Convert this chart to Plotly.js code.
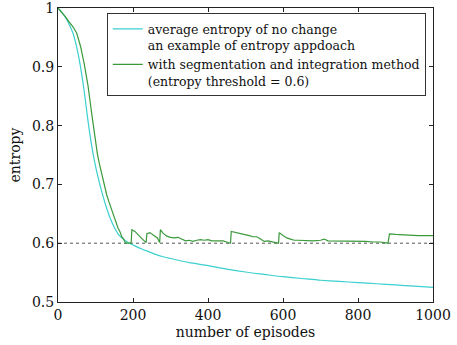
<!DOCTYPE html>
<html>
<head>
<meta charset="utf-8">
<script src="https://cdn.plot.ly/plotly-3.0.1.min.js"></script>
<style>html,body{margin:0;padding:0;background:#fff;}#chart{width:457px;height:345px;}</style>
</head>
<body>
<div id="chart"></div>
<script>
// Episodes and entropy values
const cyanEpisodes = [0,10,20,30,40,50,60,70,80,90,100,110,120,130,140,150,160,170,180,190,200,220,240,260,280,300,350,400,450,500,550,600,650,700,750,800,850,900,950,1000];
const cyanEntropy  = [1.0,0.993,0.984,0.972,0.957,0.933,0.900,0.858,0.808,0.765,0.731,0.704,0.680,0.659,0.641,0.627,0.616,0.609,0.604,0.600,0.597,0.591,0.586,0.581,0.577,0.574,0.567,0.562,0.556,0.551,0.547,0.543,0.540,0.537,0.535,0.533,0.531,0.529,0.527,0.525];

const greenEpisodes = [0,10,20,30,40,50,60,70,80,90,100,105,110,115,120,125,130,135,140,145,150,155,160,165,170,175,180,195,197,205,215,225,235,237,245,255,265,271,273,280,290,300,310,320,330,340,350,360,370,380,390,400,410,420,430,440,450,460,462,470,480,490,500,510,520,530,540,550,560,570,580,588,590,600,610,620,630,640,660,680,700,710,720,740,760,780,800,820,840,860,880,884,900,920,940,960,980,1000];
const greenEntropy  = [1.0,0.993,0.985,0.976,0.968,0.957,0.935,0.905,0.868,0.820,0.772,0.752,0.736,0.722,0.706,0.695,0.682,0.672,0.662,0.652,0.643,0.636,0.626,0.620,0.611,0.607,0.600,0.600,0.623,0.620,0.613,0.607,0.601,0.616,0.618,0.614,0.609,0.601,0.623,0.617,0.612,0.610,0.609,0.610,0.607,0.604,0.605,0.603,0.605,0.606,0.605,0.606,0.604,0.604,0.603,0.604,0.602,0.600,0.620,0.619,0.617,0.616,0.615,0.613,0.611,0.611,0.607,0.603,0.604,0.602,0.601,0.600,0.618,0.613,0.609,0.607,0.605,0.605,0.604,0.604,0.605,0.607,0.604,0.604,0.603,0.603,0.603,0.603,0.602,0.602,0.600,0.616,0.615,0.614,0.613,0.613,0.613,0.613];

const thresholdEpisodes = [0, 1000];
const thresholdEntropy = [0.6, 0.6];

const cyanName = "average entropy of no change<br>an example of entropy appdoach";
const greenName = "with segmentation and integration method<br>(entropy threshold = 0.6)";

const xTicks = [0,200,400,600,800,1000];
const yTicks = [0.5,0.6,0.7,0.8,0.9,1];
const yTickText = ["0.5","0.6","0.7","0.8","0.9","1"];

const font = "DejaVu Serif";

const traces = [
  {x: thresholdEpisodes, y: thresholdEntropy, mode: "lines", showlegend: false,
   line: {color: "#555555", width: 1, dash: "dot"}, hoverinfo: "skip"},
  {x: cyanEpisodes, y: cyanEntropy, mode: "lines", name: cyanName,
   line: {color: "#3ccfcf", width: 1.2, shape: "spline", smoothing: 0.6}},
  {x: greenEpisodes, y: greenEntropy, mode: "lines", name: greenName,
   line: {color: "#3a9a3a", width: 1.2}}
];

const axisCommon = {
  showgrid: false, zeroline: false, showline: true, mirror: "allticks",
  linecolor: "#222", linewidth: 1, ticks: "inside", ticklen: 4, tickcolor: "#222",
  ticklabeloverflow: "allow",
  tickfont: {family: font, size: 14, color: "#111"}
};

const layout = {
  width: 457, height: 345,
  margin: {l: 58, r: 24, t: 8, b: 43},
  paper_bgcolor: "#fff", plot_bgcolor: "#fff",
  font: {family: font, color: "#111"},
  xaxis: Object.assign({}, axisCommon, {
    range: [0, 1000], tickvals: xTicks, ticktext: xTicks.map(String),
    title: {text: "number of episodes", font: {family: font, size: 14}, standoff: 5}
  }),
  yaxis: Object.assign({}, axisCommon, {
    range: [0.5, 1], tickvals: yTicks, ticktext: yTickText,
    title: {text: "entropy", font: {family: font, size: 14}, standoff: 8}
  }),
  legend: {
    x: 0.13, y: 0.982, xanchor: "left", yanchor: "top",
    bgcolor: "#fff", bordercolor: "#333", borderwidth: 1,
    font: {family: font, size: 12.5, color: "#111"},
    valign: "top", tracegroupgap: 0, itemwidth: 30
  },
  showlegend: true
};

Plotly.newPlot("chart", traces, layout, {displayModeBar: false, staticPlot: true});
</script>
</body>
</html>
